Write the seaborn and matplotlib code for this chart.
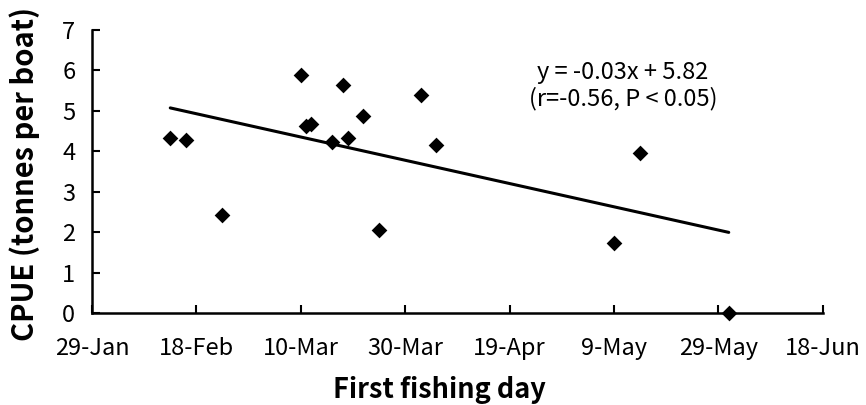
import numpy as np
import pandas as pd
import matplotlib
matplotlib.use("Agg")
import matplotlib.pyplot as plt
import seaborn as sns

# First fishing day of each boat and its catch per unit effort
first_day = ["13-Feb", "16-Feb", "23-Feb", "10-Mar", "11-Mar", "12-Mar",
             "16-Mar", "18-Mar", "19-Mar", "22-Mar", "25-Mar", "2-Apr",
             "5-Apr", "9-May", "14-May", "31-May"]
cpue = [4.33, 4.27, 2.42, 5.88, 4.62, 4.68, 4.22, 5.63, 4.33, 4.88,
        2.05, 5.38, 4.15, 1.74, 3.96, 0.0]

tick_labels = ["29-Jan", "18-Feb", "10-Mar", "30-Mar", "19-Apr",
               "9-May", "29-May", "18-Jun"]
fit_text = "y = -0.03x + 5.82\n(r=-0.56, P < 0.05)"

year = "2005"
origin = pd.to_datetime("29-Jan-" + year, format="%d-%b-%Y")
days = [(pd.to_datetime(d + "-" + year, format="%d-%b-%Y") - origin).days
        for d in first_day]
tick_days = [(pd.to_datetime(t + "-" + year, format="%d-%b-%Y") - origin).days
             for t in tick_labels]

df = pd.DataFrame({"day": days, "cpue": cpue})

sns.set_theme(style="white")
plt.rcParams["font.family"] = ["Noto Sans CJK JP", "DejaVu Sans"]

fig = plt.figure(figsize=(8.66, 4.05), dpi=100)
ax = fig.add_axes([0.1062, 0.2272, 0.8438, 0.6988])

sns.regplot(data=df, x="day", y="cpue", ax=ax, ci=None, truncate=True,
            marker="D",
            scatter_kws=dict(s=64, color="black", edgecolor="black",
                             linewidths=0, alpha=1, zorder=3, clip_on=False),
            line_kws=dict(color="black", lw=2.2, zorder=2))

ax.set_xlim(tick_days[0], tick_days[-1])
ax.set_ylim(0, 7)
ax.set_xticks(tick_days)
ax.set_xticklabels(tick_labels)
ax.set_yticks(range(0, 8))

sns.despine(ax=ax)
for side in ("left", "bottom"):
    ax.spines[side].set_color("black")
    ax.spines[side].set_linewidth(1.8)

ax.tick_params(axis="both", direction="in", length=6, width=1.5,
               colors="black", labelsize=17, left=True, bottom=True)
ax.tick_params(axis="x", pad=17)
ax.tick_params(axis="y", pad=12)

ax.set_xlabel("First fishing day", fontsize=19.5, fontweight="bold",
              color="black", va="center")
ax.xaxis.set_label_coords(0.476, -0.272)
ax.set_ylabel("CPUE (tonnes per boat)", fontsize=21, fontweight="bold",
              color="black", va="center", ha="center")
ax.yaxis.set_label_coords(-0.092, 0.49)

ax.text(101.7, 5.63, fit_text, ha="center", va="center", fontsize=17,
        color="black", linespacing=1.15)

fig.savefig("out.png", dpi=100, facecolor="white")
